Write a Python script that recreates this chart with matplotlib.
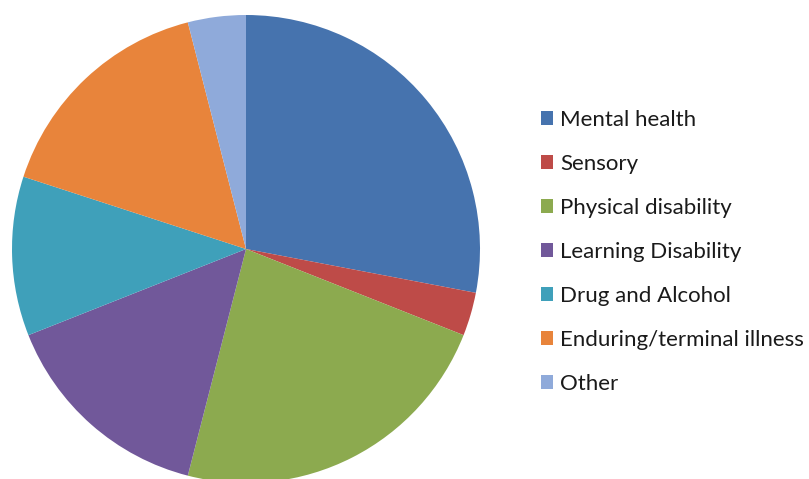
import matplotlib
matplotlib.use("Agg")
import matplotlib.pyplot as plt
from matplotlib.patches import Patch

categories = ["Mental health", "Sensory", "Physical disability", "Learning Disability",
              "Drug and Alcohol", "Enduring/terminal illness", "Other"]
values = [28, 3, 23, 15, 11, 16, 4]
colors = ["#4673AE", "#BE4B48", "#8CAA4F", "#71589A", "#3FA0BA", "#E8843B", "#8FAADA"]

W, H = 809, 479
fig = plt.figure(figsize=(W / 100, H / 100), dpi=100)
cx, cy, r = 246, 479 - 249, 234
ax = fig.add_axes([(cx - r) / W, (cy - r) / H, 2 * r / W, 2 * r / H])
wedges, _ = ax.pie(values, colors=colors, startangle=90, counterclock=False,
                   radius=1, wedgeprops=dict(linewidth=0))
ax.set_xlim(-1, 1)
ax.set_ylim(-1, 1)
ax.axis("off")

handles = [Patch(facecolor=c, edgecolor="none") for c in colors]
fig.legend(handles, categories, loc="upper left", bbox_to_anchor=(541 / W, 1 - 110 / H),
           frameon=False, prop=dict(family="Lato", size=16), labelcolor="#1a1a1a",
           handlelength=0.55, handleheight=0.55, handletextpad=0.32, labelspacing=1.08,
           borderpad=0, borderaxespad=0)

fig.savefig("out.png", dpi=100)
